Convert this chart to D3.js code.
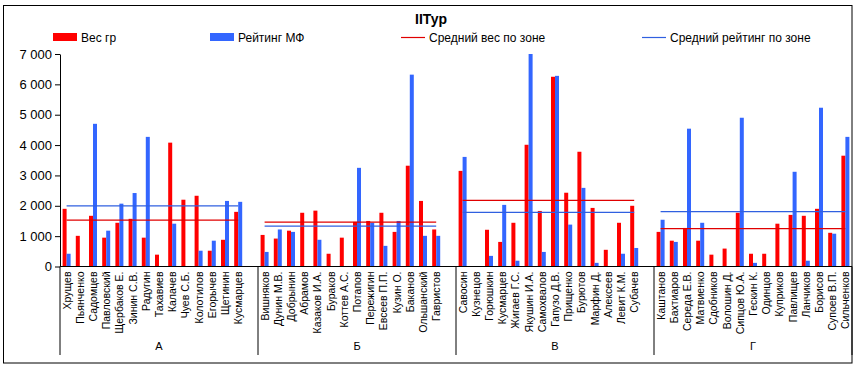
<!DOCTYPE html>
<html>
<head>
<meta charset="utf-8">
<script src="https://cdn.jsdelivr.net/npm/d3@7"></script>
<style>
  html, body { margin: 0; padding: 0; background: #fff; }
  svg { display: block; font-family: "Liberation Sans", Arial, sans-serif; }
</style>
</head>
<body>
<svg id="chart" width="860" height="372"></svg>
<script>
// ---- data ----
const title = "IIТур";
const seriesNames = ["Вес гр", "Рейтинг МФ", "Средний вес по зоне", "Средний рейтинг по зоне"];
const zones = ["А", "Б", "В", "Г"];
const slotsPerZone = 15;

const namesA = ["Хрущев", "Пьянченко", "Садомцев", "Павловский", "Щербаков Е.", "Зинин С.В.", "Радугин", "Тахавиев", "Калачев", "Чуев С.Б.", "Колотилов", "Егорычев", "Щетинин", "Кусмарцев"];
const weightA = [1900, 1010, 1670, 950, 1440, 1570, 950, 390, 4080, 2200, 2330, 520, 880, 1800];
const ratingA = [420, 0, 4700, 1180, 2070, 2420, 4270, 0, 1410, 0, 520, 850, 2160, 2130];

const namesB = ["Вишняков", "Дунин М.В.", "Добрынин", "Абрамов", "Казаков И.А.", "Бураков", "Коттев А.С.", "Потапов", "Пережигин", "Евсеев П.П.", "Кузин О.", "Баканов", "Ольшанский", "Гавристов"];
const weightB = [1040, 920, 1180, 1770, 1840, 420, 950, 1470, 1500, 1770, 1140, 3320, 2160, 1220];
const ratingB = [480, 1220, 1140, 0, 880, 0, 0, 3250, 1440, 680, 1500, 6320, 1010, 1010];

const namesV = ["Савосин", "Кузнецов", "Горюшкин", "Кусмарцев", "Жигаев Г.С.", "Якушин И.А.", "Самохвалов", "Гапузо Д.В.", "Прищенко", "Бурютов", "Марфин Д.", "Алексеев", "Левит К.М.", "Субачев"];
const weightV = [3150, 0, 1210, 810, 1440, 4010, 1830, 6250, 2430, 3780, 1930, 550, 1440, 2000];
const ratingV = [3610, 0, 350, 2030, 190, 7000, 480, 6280, 1380, 2590, 120, 0, 420, 610];

const namesG = ["Каштанов", "Бахтиаров", "Середа Е.В.", "Матвиенко", "Сдобников", "Волошин Д.", "Сипцов Ю.А.", "Гескин К.", "Одинцов", "Куприков", "Павлищев", "Ланчиков", "Борисов", "Супоев В.П.", "Сильченков"];
const weightG = [1140, 850, 1270, 850, 390, 590, 1770, 420, 420, 1410, 1700, 1670, 1900, 1110, 3650];
const ratingG = [1540, 810, 4540, 1440, 0, 0, 4900, 120, 0, 0, 3120, 190, 5230, 1080, 4270];

const meanWeight = [1530, 1460, 2180, 1250];
const meanRating = [2000, 1330, 1780, 1810];

const yTicks = [0, 1000, 2000, 3000, 4000, 5000, 6000, 7000];

const colorWeight = "#ff0000";
const colorRating = "#3366ff";
const colorMeanWeight = "#e00000";
const colorMeanRating = "#3060e0";

// ---- build ----
const zoneNames = [namesA, namesB, namesV, namesG];
const zoneWeights = [weightA, weightB, weightV, weightG];
const zoneRatings = [ratingA, ratingB, ratingV, ratingG];

const rows = [];
zones.forEach((z, zi) => {
  zoneNames[zi].forEach((n, i) => {
    rows.push({ zone: z, zi, slot: `${zi}-${i}`, name: n, weight: zoneWeights[zi][i], rating: zoneRatings[zi][i] });
  });
});
const slotDomain = [];
zones.forEach((z, zi) => { for (let i = 0; i < slotsPerZone; i++) slotDomain.push(`${zi}-${i}`); });

const svg = d3.select("#chart");
const mLeft = 60, mRight = 852, mTop = 54, mBottom = 266.5;

const x = d3.scaleBand().domain(slotDomain).range([mLeft, mRight]).paddingInner(0).paddingOuter(0);
const xs = d3.scaleBand().domain(["weight", "rating"]).range([0, x.bandwidth()]).paddingInner(0).paddingOuter(0.65);
const y = d3.scaleLinear().domain([0, 7000]).range([mBottom, mTop]);

// outer border
svg.append("rect").attr("x", 3.5).attr("y", 5.5).attr("width", 848.5).attr("height", 357.5)
  .attr("fill", "none").attr("stroke", "#000").attr("stroke-width", 1);

// title
svg.append("text").attr("x", 431).attr("y", 24).attr("text-anchor", "middle")
  .attr("font-size", 14).attr("font-weight", "bold").text(title);

// legend
const legend = [
  { name: seriesNames[0], type: "rect", color: colorWeight, x: 53 },
  { name: seriesNames[1], type: "rect", color: colorRating, x: 210 },
  { name: seriesNames[2], type: "line", color: colorMeanWeight, x: 401 },
  { name: seriesNames[3], type: "line", color: colorMeanRating, x: 642 }
];
const lg = svg.append("g");
legend.forEach(l => {
  if (l.type === "rect") {
    lg.append("rect").attr("x", l.x).attr("y", 33).attr("width", 24).attr("height", 8).attr("fill", l.color);
  } else {
    lg.append("line").attr("x1", l.x).attr("x2", l.x + 24).attr("y1", 37.5).attr("y2", 37.5)
      .attr("stroke", l.color).attr("stroke-width", 1.2);
  }
  lg.append("text").attr("x", l.x + 28).attr("y", 42).attr("font-size", 12).text(l.name);
});

// y axis
const fmt = d3.formatLocale({ decimal: ",", thousands: " ", grouping: [3], currency: ["", ""] }).format(",d");
const yAxis = svg.append("g").attr("transform", `translate(${mLeft},0)`)
  .call(d3.axisLeft(y).tickValues(yTicks).tickFormat(fmt).tickSize(5).tickSizeOuter(0).tickPadding(3));
yAxis.select(".domain").attr("stroke", "#000");
yAxis.selectAll(".tick line").attr("stroke", "#000");
yAxis.selectAll(".tick text").attr("font-size", 13).attr("font-family", "Liberation Sans, Arial, sans-serif").attr("fill", "#000");

// bars
const bars = svg.append("g");
bars.selectAll("rect.w").data(rows.filter(d => d.weight > 0)).join("rect")
  .attr("class", "w")
  .attr("x", d => x(d.slot) + xs("weight"))
  .attr("width", xs.bandwidth())
  .attr("y", d => y(d.weight))
  .attr("height", d => y(0) - y(d.weight))
  .attr("fill", colorWeight);
bars.selectAll("rect.r").data(rows.filter(d => d.rating > 0)).join("rect")
  .attr("class", "r")
  .attr("x", d => x(d.slot) + xs("rating"))
  .attr("width", xs.bandwidth())
  .attr("y", d => y(d.rating))
  .attr("height", d => y(0) - y(d.rating))
  .attr("fill", colorRating);

// mean lines per zone
zones.forEach((z, zi) => {
  const zr = rows.filter(d => d.zi === zi);
  const x1 = x(zr[0].slot) + x.bandwidth() / 2;
  const x2 = x(zr[zr.length - 1].slot) + x.bandwidth() / 2;
  svg.append("line").attr("x1", x1).attr("x2", x2)
    .attr("y1", y(meanWeight[zi])).attr("y2", y(meanWeight[zi]))
    .attr("stroke", colorMeanWeight).attr("stroke-width", 1.2);
  svg.append("line").attr("x1", x1).attr("x2", x2)
    .attr("y1", y(meanRating[zi])).attr("y2", y(meanRating[zi]))
    .attr("stroke", colorMeanRating).attr("stroke-width", 1.2);
});

// x axis line
svg.append("line").attr("x1", mLeft).attr("x2", mRight).attr("y1", mBottom).attr("y2", mBottom)
  .attr("stroke", "#000");

// category labels
svg.append("g").selectAll("text").data(rows).join("text")
  .attr("transform", d => `translate(${x(d.slot) + x.bandwidth() / 2 + 4},${mBottom + 5}) rotate(-90)`)
  .attr("text-anchor", "end")
  .attr("font-size", 10.5)
  .text(d => d.name);

// zone separators and labels
const sepX = zones.map((z, zi) => x(`${zi}-0`)).concat([mRight]);
svg.append("g").selectAll("line").data(sepX).join("line")
  .attr("x1", d => d).attr("x2", d => d).attr("y1", mBottom).attr("y2", 355)
  .attr("stroke", "#000");
svg.append("g").selectAll("text").data(zones).join("text")
  .attr("x", (z, zi) => (sepX[zi] + sepX[zi + 1]) / 2)
  .attr("y", 350)
  .attr("text-anchor", "middle")
  .attr("font-size", 11)
  .text(d => d);
</script>
</body>
</html>
